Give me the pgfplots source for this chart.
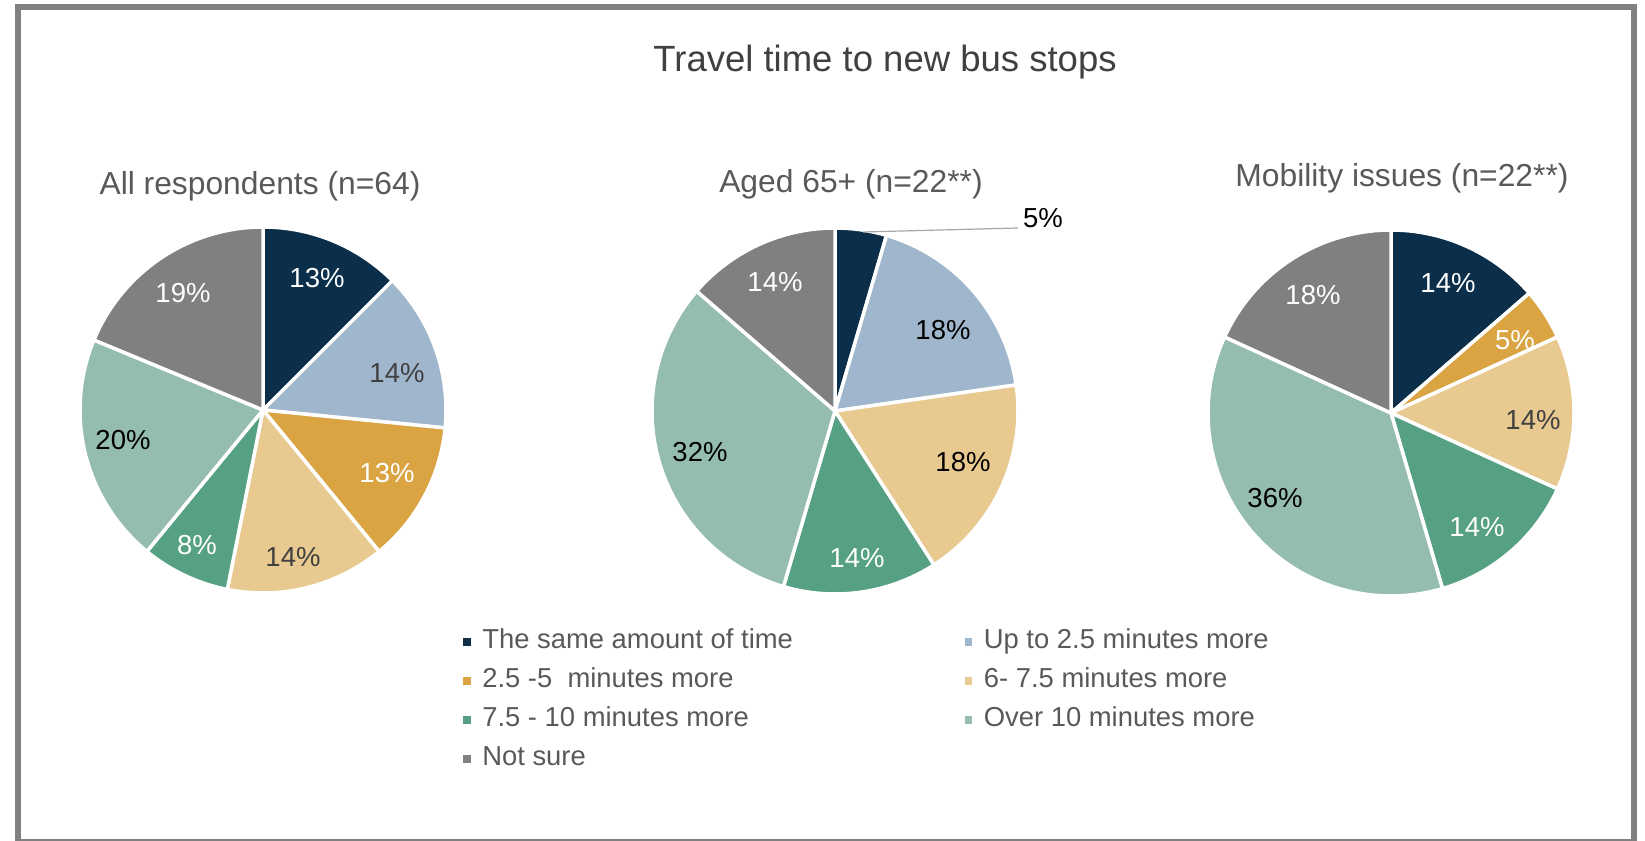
\documentclass[border=0pt]{standalone}
\usepackage{pgfplots}
\pgfplotsset{compat=1.18}
\usepackage{pgfplotstable}
\usepackage{fontspec}
\setmainfont{Liberation Sans}

\definecolor{c0}{HTML}{0B2F4A}
\definecolor{c1}{HTML}{A0B6CC}
\definecolor{c2}{HTML}{D9A441}
\definecolor{c3}{HTML}{E8C98F}
\definecolor{c4}{HTML}{56A083}
\definecolor{c5}{HTML}{95BCB0}
\definecolor{c6}{HTML}{808080}
\definecolor{dark}{HTML}{404040}
\definecolor{subgrey}{HTML}{595959}
\definecolor{framegrey}{HTML}{808080}
\definecolor{leader}{HTML}{A6A6A6}

\newcommand\labelfont{\fontsize{13.75}{16}\selectfont}

% answers in legend order: count, shown percent, label position (px from centre), label colour
\pgfplotstableread{
n  pct lx   ly   tc
8  13  54   132  white
9  14  134  37   dark
8  13  124  -63  white
9  14  30   -147 dark
5  8   -66  -135 white
13 20  -140 -30  black
12 19  -80  117  white
}\allresp

\pgfplotstableread{
n  pct lx   ly   tc
1  5   208  193  black
4  18  108  81   black
0  0   0    0    black
4  18  128  -51  black
3  14  22   -147 white
7  32  -135 -41  black
3  14  -60  129  white
}\agedsixtyfive

\pgfplotstableread{
n  pct lx   ly   tc
3  14  57   130  white
0  0   0    0    white
1  5   124  73   white
3  14  142  -7   dark
3  14  86   -114 white
8  36  -116 -85  black
4  18  -78  118  white
}\mobility

% wedges clockwise from 12 o'clock
\newcommand\pie[2]{%
  \def\cum{0}%
  \pgfplotsforeachungrouped \i in {0,...,6}{%
    \pgfplotstablegetelem{\i}{n}\of#1\let\nn\pgfplotsretval
    \pgfplotstablegetelem{\i}{pct}\of#1\let\pp\pgfplotsretval
    \pgfplotstablegetelem{\i}{lx}\of#1\let\lx\pgfplotsretval
    \pgfplotstablegetelem{\i}{ly}\of#1\let\ly\pgfplotsretval
    \pgfplotstablegetelem{\i}{tc}\of#1\let\tc\pgfplotsretval
    \pgfmathsetmacro\aS{90-\cum/#2*360}%
    \pgfmathsetmacro\cum{\cum+\nn}%
    \pgfmathsetmacro\aE{90-\cum/#2*360}%
    \ifnum\nn>0
      \edef\tmp{\noexpand\addplot[forget plot, fill=c\i, draw=white, line width=1.75pt,
        line join=round, domain=\aE:\aS, samples=90]
        ({183*cos(x)},{183*sin(x)}) -- (axis cs:0,0) -- cycle;
        \noexpand\node[text=\tc, font=\noexpand\labelfont] at (axis cs:\lx,\ly) {\pp\noexpand\%};}%
      \tmp
    \fi
  }%
}

\pgfplotsset{pieaxis/.style={hide axis, scale only axis, x=0.5pt, y=0.5pt,
  xmin=-185, xmax=185, ymin=-185, ymax=185, anchor=center, clip=false}}

\begin{document}
\begin{tikzpicture}[x=0.5pt,y=0.5pt]
\path[use as bounding box] (0,0) rectangle (1645,841);
\draw[framegrey, line width=3pt] (18,834) rectangle (1634,-1);

\node[anchor=base, text=dark, font=\fontsize{18.25}{22}\selectfont] at (885,769) {Travel time to new bus stops};
\node[anchor=base, text=subgrey, font=\fontsize{15.9}{19}\selectfont] at (260,646) {All respondents (n=64)};
\node[anchor=base, text=subgrey, font=\fontsize{15.9}{19}\selectfont] at (851,648) {Aged 65+ (n=22**)};
\node[anchor=base, text=subgrey, font=\fontsize{15.9}{19}\selectfont] at (1402,654) {Mobility issues (n=22**)};

\begin{axis}[pieaxis, at={(263,431)},
  legend columns=2,
  legend cell align=left,
  legend image code/.code={\fill[#1, draw=none] (0pt,-2.3pt) rectangle (3.75pt,1.5pt);
    \path (7.25pt,0pt);},
  legend style={at={(1.0243,-0.0663)}, anchor=north west, draw=none, fill=none,
    font=\fontsize{13.7}{16}\selectfont, text=subgrey, row sep=2pt,
    nodes={inner sep=2pt, text height=10.5pt, text depth=3pt},
    /tikz/every even column/.append style={column sep=84pt}}]
\pie{\allresp}{64}
\addlegendimage{fill=c0}\addlegendentry{The same amount of time}
\addlegendimage{fill=c1}\addlegendentry{Up to 2.5 minutes more}
\addlegendimage{fill=c2}\addlegendentry{2.5 -5\ \ minutes more}
\addlegendimage{fill=c3}\addlegendentry{6- 7.5 minutes more}
\addlegendimage{fill=c4}\addlegendentry{7.5 - 10 minutes more}
\addlegendimage{fill=c5}\addlegendentry{Over 10 minutes more}
\addlegendimage{fill=c6}\addlegendentry{Not sure}
\end{axis}

\begin{axis}[pieaxis, at={(835,430)}]
\pie{\agedsixtyfive}{22}
\draw[leader, line width=0.6pt] (axis cs:28,179) -- (axis cs:183,183);
\end{axis}

\begin{axis}[pieaxis, at={(1391,428)}]
\pie{\mobility}{22}
\end{axis}
\end{tikzpicture}
\end{document}
